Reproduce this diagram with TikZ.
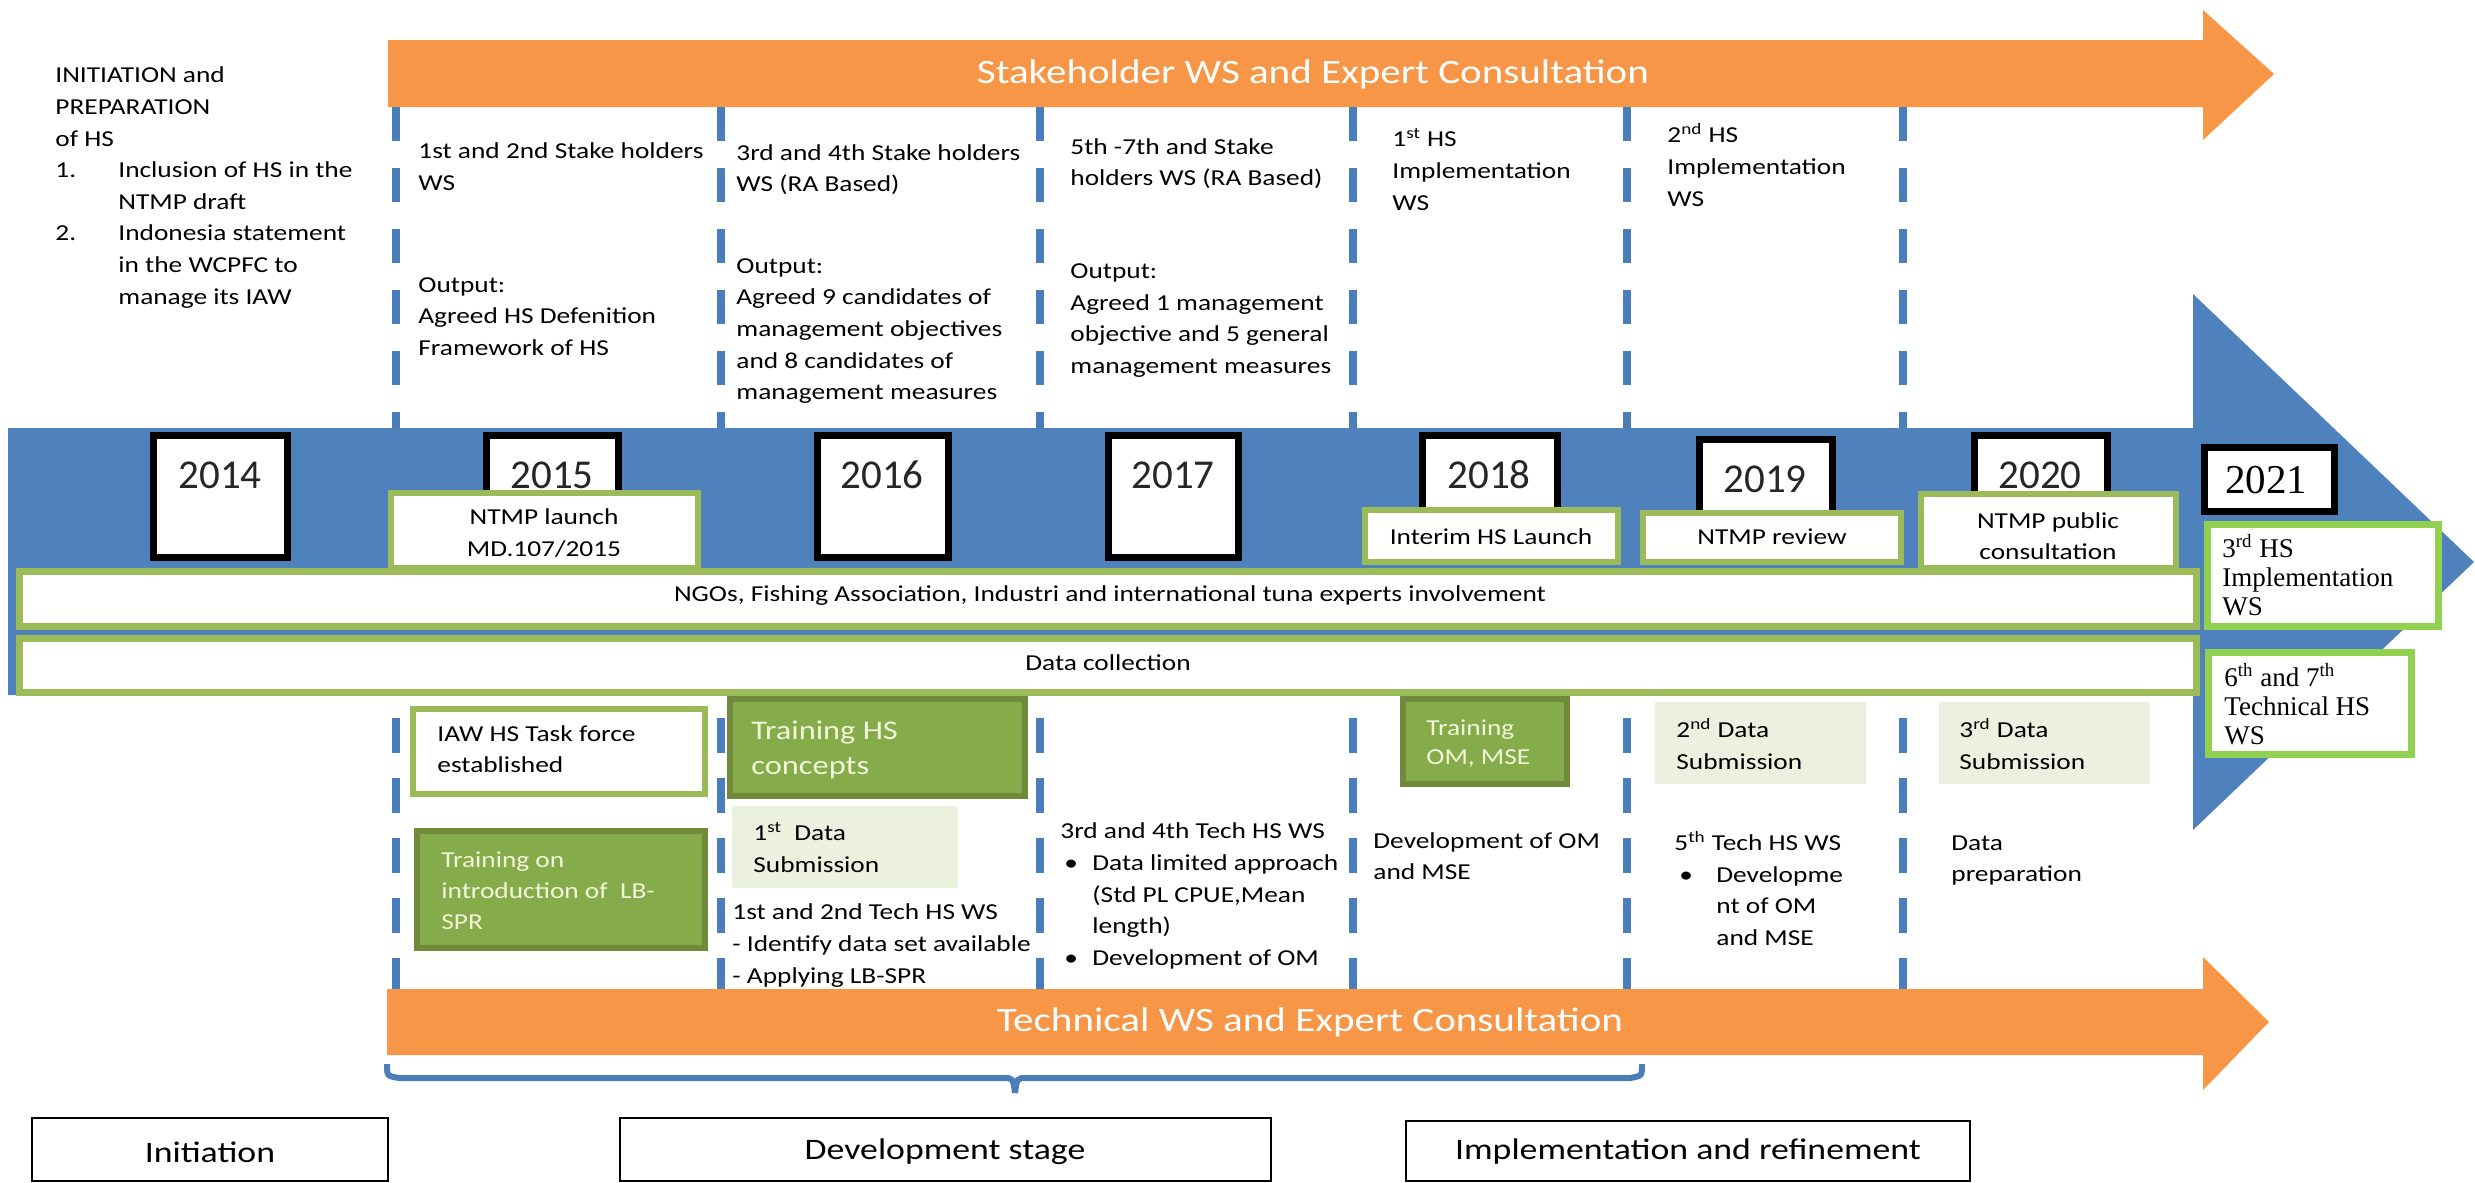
\documentclass[tikz,border=0pt]{standalone}
\usepackage{fontspec}
\setmainfont{Carlito}[FakeStretch=1.2]
\newfontfamily\yearfont{Carlito}
\newfontfamily\serf{Liberation Serif}
\definecolor{orA}{HTML}{F79646}
\definecolor{blA}{HTML}{4F81BD}
\definecolor{blD}{HTML}{4A7EBB}
\definecolor{grA}{HTML}{9BBB59}
\definecolor{grB}{HTML}{92D050}
\definecolor{grDk}{HTML}{86AB4A}
\definecolor{grDkB}{HTML}{6E8A3A}
\definecolor{grLt}{HTML}{EBF1DE}
\definecolor{txtY}{HTML}{F2F7D9}
\tikzset{
  txt/.style={inner sep=0pt, anchor=west, align=left, font=\fontsize{11.4}{15.8}\selectfont},
  ctxt/.style={inner sep=0pt, anchor=center, align=center, font=\fontsize{11.4}{15.8}\selectfont},
  yeartxt/.style={inner sep=0pt, anchor=center, text=black!85, font=\yearfont\fontsize{20.5}{24}\selectfont},
  yearbox/.style={draw=black, line width=3.5pt, fill=white},
  gbox/.style={draw=grA, line width=3pt, fill=white},
  gbbox/.style={draw=grB, line width=3.5pt, fill=white},
  dkbox/.style={draw=grDkB, line width=3pt, fill=grDk},
  ltbox/.style={fill=grLt, draw=none},
  barbox/.style={draw=grA, line width=3.5pt, fill=white},
  vdashT/.style={draw=blD, line width=4pt, dash pattern=on 17pt off 13.5pt},
  vdashB/.style={draw=blD, line width=4pt, dash pattern=on 17.5pt off 12.5pt},
  stagebox/.style={draw=black, line width=1pt, fill=white},
  stagetxt/.style={inner sep=0pt, anchor=center, font=\fontsize{14.9}{18}\selectfont},
  bigtitle/.style={inner sep=0pt, anchor=center, text=white, font=\fontsize{17.1}{20}\selectfont},
  serftxt/.style={inner sep=0pt, anchor=west, align=left, font=\serf\fontsize{13.5}{14.5}\selectfont},
  dktxt/.style={inner sep=0pt, anchor=west, align=left, text=txtY}
}
\begin{document}
\begin{tikzpicture}[x=0.5pt,y=-0.5pt]
\fill[white] (0,0) rectangle (2475,1183);
\useasboundingbox (0,0) rectangle (2475,1183);

% top orange arrow
\fill[orA] (388,40) -- (2203,40) -- (2203,10) -- (2274,74) -- (2203,140) -- (2203,107) -- (388,107) -- cycle;
\node[bigtitle] (toptitle) at (1313,74) {Stakeholder WS and Expert Consultation};

% top dashed lines
\foreach \xx/\nm in {396/a,721/b,1040/c,1353/d,1627/e,1903/f}{
  \coordinate (t\nm) at (\xx,107);
  \coordinate (u\nm) at (\xx,430);
  \draw[vdashT] (t\nm) -- (u\nm);
}

% blue arrow
\fill[blA] (8,428) -- (2193,428) -- (2193,294) -- (2474,562) -- (2193,830) -- (2193,695) -- (8,695) -- cycle;

% year boxes
\draw[yearbox] (153,435) rectangle (287,557);
\draw[yearbox] (486,435) rectangle (618,557);
\draw[yearbox] (817,435) rectangle (948,557);
\draw[yearbox] (1108,435) rectangle (1238,557);
\draw[yearbox] (1422,435) rectangle (1557,557);
\draw[yearbox] (1699,439) rectangle (1832,557);
\draw[yearbox] (1974,435) rectangle (2107,557);
\draw[yearbox] (2204,447) rectangle (2334,511);
\node[yeartxt] (y2014) at (220,475) {2014};
\node[yeartxt] (y2015) at (552,475) {2015};
\node[yeartxt] (y2016) at (882,475) {2016};
\node[yeartxt] (y2017) at (1173,475) {2017};
\node[yeartxt] (y2018) at (1489,475) {2018};
\node[yeartxt] (y2019) at (1765,479) {2019};
\node[yeartxt] (y2020) at (2040,475) {2020};
\node[yeartxt, text=black, font=\serf\fontsize{20.5}{24}\selectfont] (y2021) at (2266,480) {2021};

% green boxes in band
\draw[gbox] (391,493) rectangle (698,568);
\node[ctxt] (ntmpl) at (544,533) {NTMP launch\\MD.107/2015};
\draw[gbox] (1365,510) rectangle (1618,562);
\node[ctxt] (interim) at (1491,537) {Interim HS Launch};
\draw[gbox] (1643,513) rectangle (1901,562);
\node[ctxt] (ntmpr) at (1772,537) {NTMP review};
\draw[gbox] (1921,494) rectangle (2176,568);
\node[ctxt] (ntmpp) at (2048,536) {NTMP public\\consultation};

% bars
\draw[barbox] (19,571) rectangle (2196,626);
\node[ctxt] (ngo) at (1110,596) {NGOs, Fishing Association, Industri and international tuna experts involvement};
\draw[barbox] (19,638) rectangle (2196,692);
\node[ctxt] (datac) at (1108,663) {Data collection};

% 2021 boxes
\draw[gbbox] (2207,524) rectangle (2438,626);
\node[serftxt] (hs3) at (2222,575) {3\textsuperscript{rd} HS\\Implementation\\WS};
\draw[gbbox] (2208,652) rectangle (2411,754);
\node[serftxt] (tech67) at (2224,704) {6\textsuperscript{th} and 7\textsuperscript{th}\\Technical HS\\WS};

% lower dashed lines
\foreach \xx/\nm in {396/a,721/b,1040/c,1353/d,1627/e,1903/f}{
  \coordinate (p\nm) at (\xx,718);
  \coordinate (q\nm) at (\xx,992);
  \draw[vdashB] (p\nm) -- (q\nm);
}

% lower boxes
\draw[gbox] (413,709) rectangle (705,794);
\node[txt] (iaw) at (437,749) {IAW HS Task force\\established};
\draw[dkbox] (730,699) rectangle (1025,796);
\node[dktxt, font=\fontsize{13.5}{17.5}\selectfont] (trhs) at (751,749.5) {Training HS\\concepts};
\draw[dkbox] (417,831) rectangle (705,948);
\node[dktxt, font=\fontsize{11.4}{15.5}\selectfont] (trlb) at (441,891) {Training on\\introduction of\ \ LB-\\SPR};
\fill[ltbox] (732,806) rectangle (958,888);
\node[txt] (ds1) at (753,847.5) {1\textsuperscript{st}\ \ Data\\Submission};
\node[txt] (tech12) at (732,945.5) {1st and 2nd Tech HS WS\\- Identify data set available\\- Applying LB-SPR};
\node[txt] (tech34) at (1060,896) {3rd and 4th Tech HS WS\\\hspace*{2pt}\makebox[14pt][l]{•}Data limited approach\\\hspace*{16pt}(Std PL CPUE,Mean\\\hspace*{16pt}length)\\\hspace*{2pt}\makebox[14pt][l]{•}Development of OM};
\draw[dkbox] (1403,699) rectangle (1567,784);
\node[dktxt, font=\fontsize{11.4}{14.5}\selectfont] (trom) at (1426,743.5) {Training\\OM, MSE};
\node[txt] (devom) at (1373,856) {Development of OM\\and MSE};
\fill[ltbox] (1655,702) rectangle (1866,784);
\node[txt] (ds2) at (1676,744) {2\textsuperscript{nd} Data\\Submission};
\node[txt] (tech5) at (1674,888.5) {5\textsuperscript{th} Tech HS WS\\\hspace*{2.5pt}\makebox[18.5pt][l]{•}Developme\\\hspace*{21pt}nt of OM\\\hspace*{21pt}and MSE};
\fill[ltbox] (1939,702) rectangle (2150,784);
\node[txt] (ds3) at (1959,744) {3\textsuperscript{rd} Data\\Submission};
\node[txt] (dprep) at (1951,860.5) {Data\\preparation};

% lower orange arrow
\fill[orA] (387,989) -- (2203,989) -- (2203,957) -- (2269,1022) -- (2203,1090) -- (2203,1055) -- (387,1055) -- cycle;
\node[bigtitle] (bottitle) at (1310,1022) {Technical WS and Expert Consultation};

% bracket
\coordinate (brL) at (387,1064);
\coordinate (brM) at (1015,1093);
\coordinate (brR) at (1642,1064);
\draw[blD, line width=3pt] (brL) .. controls (387,1076) .. (399,1078) -- (1003,1078) .. controls (1013,1078) .. (brM);
\draw[blD, line width=3pt] (brM) .. controls (1017,1078) .. (1027,1078) -- (1630,1078) .. controls (1642,1076) .. (brR);

% stage boxes
\draw[stagebox] (32,1118) rectangle (388,1181);
\node[stagetxt] (sinit) at (210,1152) {Initiation};
\draw[stagebox] (620,1118) rectangle (1271,1181);
\node[stagetxt] (sdev) at (945,1152) {Development stage};
\draw[stagebox] (1406,1121) rectangle (1970,1181);
\node[stagetxt] (simp) at (1688,1152) {Implementation and refinement};

% top texts
\node[txt] (init) at (55,187.5) {INITIATION and\\PREPARATION\\of HS\\\makebox[31.5pt][l]{1.}Inclusion of HS in the\\\hspace*{31.5pt}NTMP draft\\\makebox[31.5pt][l]{2.}Indonesia statement\\\hspace*{31.5pt}in the WCPFC to\\\hspace*{31.5pt}manage its IAW};
\node[txt] (sh12) at (418,166.5) {1st and 2nd Stake holders\\WS};
\node[txt] (out1) at (418,316.5) {Output:\\Agreed HS Defenition\\Framework of HS};
\node[txt] (sh34) at (736,169.5) {3rd and 4th Stake holders\\WS (RA Based)};
\node[txt] (out2) at (736,331) {Output:\\Agreed 9 candidates of\\management objectives\\and 8 candidates of\\management measures};
\node[txt] (sh57) at (1070,163.5) {5th -7th and Stake\\holders WS (RA Based)};
\node[txt] (out3) at (1070,320.5) {Output:\\Agreed 1 management\\objective and 5 general\\management measures};
\node[txt] (hs1) at (1392,169.5) {1\textsuperscript{st} HS\\Implementation\\WS};
\node[txt] (hs2) at (1667,165) {2\textsuperscript{nd} HS\\Implementation\\WS};
\end{tikzpicture}
\end{document}
